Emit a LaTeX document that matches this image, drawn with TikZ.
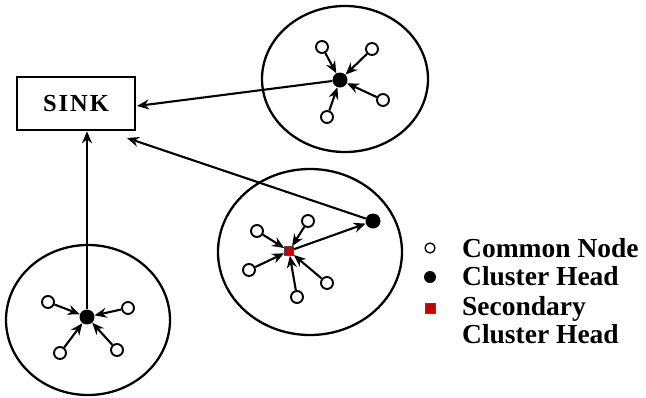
\documentclass[tikz,border=0pt]{standalone}
\usepackage{fontspec}
\setmainfont{Liberation Serif}
\usetikzlibrary{arrows.meta,calc}
\definecolor{sqred}{RGB}{200,0,0}
\begin{document}
\begin{tikzpicture}[x=1pt,y=-1pt,
 cn/.style={circle,draw,line width=1.9pt,fill=white,minimum size=12pt,inner sep=0pt},
 ch/.style={circle,fill=black,minimum size=15pt,inner sep=0pt},
 sq/.style={rectangle,fill=sqred,draw=black!70,line width=0.6pt,minimum size=9pt,inner sep=0pt},
 arr/.style={-{Stealth[length=12pt,width=10pt]},line width=2.1pt},
 ring/.style={line width=2.3pt},
 leg/.style={anchor=base west,font=\bfseries\fontsize{27.5}{30}\selectfont,inner sep=0pt}]
\useasboundingbox (0,0) rectangle (646,397);
% sink
\node[draw,line width=2.6pt,minimum width=118pt,minimum height=53pt,inner sep=0pt,
  font=\bfseries\fontsize{24.5}{28}\selectfont\addfontfeatures{LetterSpace=8}] (sink) at (76,103.5) {SINK};
% rings
\draw[ring] (345,79) ellipse [x radius=83pt, y radius=73pt];
\draw[ring] (310,252) ellipse [x radius=92pt, y radius=83pt];
\draw[ring] (88,320) ellipse [x radius=82pt, y radius=75pt];
% top-right cluster
\node[ch] (h1) at (340,80) {};
\node[cn] (a1) at (322,47) {};
\node[cn] (a2) at (372,49) {};
\node[cn] (a3) at (383,100) {};
\node[cn] (a4) at (327,117) {};
\foreach \n in {a1,a2,a3,a4} \draw[arr] (\n) -- (h1);
\coordinate (s1) at (137,106);
\draw[arr] (h1) -- (s1);
% middle cluster
\node[ch] (h2) at (373,221) {};
\node[sq] (q2) at (289,251) {};
\node[cn] (b1) at (257,231) {};
\node[cn] (b2) at (308,221) {};
\node[cn] (b3) at (249,270) {};
\node[cn] (b4) at (297,297) {};
\node[cn] (b5) at (327,283) {};
\foreach \n in {b1,b2,b3,b4,b5} \draw[arr] (\n) -- (q2);
\draw[arr] (q2) -- (h2);
\coordinate (s2) at (127,138);
\draw[arr] (h2) -- (s2);
% bottom-left cluster
\node[ch] (h3) at (87,317) {};
\node[cn] (c1) at (48,302) {};
\node[cn] (c2) at (128,308) {};
\node[cn] (c3) at (60,353) {};
\node[cn] (c4) at (117,350) {};
\foreach \n in {c1,c2,c3,c4} \draw[arr] (\n) -- (h3);
\draw[arr] (h3) -- (h3 |- sink.south);
% legend
\node[cn,minimum size=10pt,line width=1.3pt] (l1) at (430,248) {};
\node[ch,minimum size=12pt] (l2) at (430,277) {};
\node[sq,minimum size=10pt] (l3) at (430,308) {};
\node[leg] (t1) at (462,257) {Common Node};
\node[leg] (t2) at (462,285) {Cluster Head};
\node[leg] (t3) at (462,315) {Secondary};
\node[leg] (t4) at (462,343) {Cluster Head};
\end{tikzpicture}
\end{document}
